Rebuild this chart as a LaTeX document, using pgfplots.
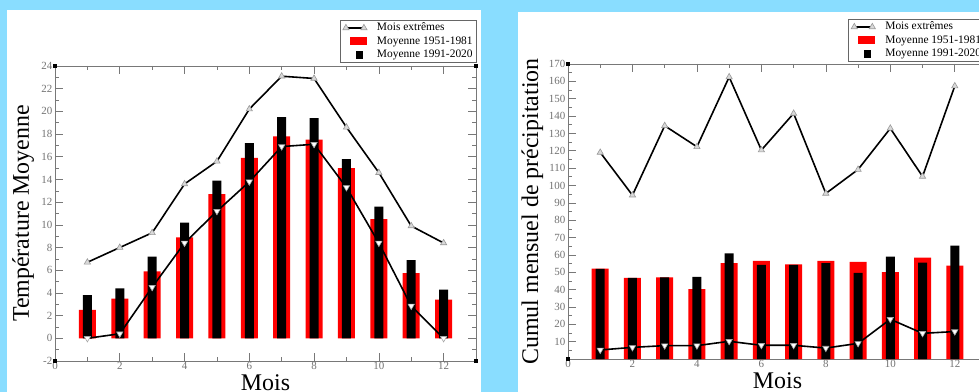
\documentclass[border=0pt]{standalone}
\usepackage{fontspec}
\setmainfont{Liberation Serif}
\usepackage{pgfplots}
\pgfplotsset{compat=1.18}
\definecolor{bgblue}{RGB}{137,221,255}
\definecolor{framegray}{RGB}{120,120,120}
\tikzset{
  uplinet/.style={black, line width=1.6bp, mark=triangle*, mark size=3.6bp,
    mark options={fill=gray!30, draw=gray!80, line width=0.6bp}},
}
\pgfplotsset{
  panel/.style={
    scale only axis,
    xmin=0, xmax=13,
    xtick={0,2,...,12},
    minor xtick={1,3,...,13},
    axis line style={framegray, line width=0.6bp},
    every tick/.style={framegray, line width=0.6bp},
    major tick length=8bp, minor tick length=4bp,
    tick align=inside,
    ticklabel style={font=\fontsize{11}{12}\selectfont, text=black!55},
    /pgf/number format/assume math mode=true,
    xticklabel style={inner sep=1.5bp},
    yticklabel style={inner sep=2.5bp},
    clip=false,
    xlabel={Mois},
    label style={font=\fontsize{24}{26}\selectfont},
    xlabel style={at={(axis description cs:0.5,0)}, anchor=base, yshift=-29bp, inner sep=0pt},
    legend cell align=left,
    legend style={font=\fontsize{11.5}{12}\selectfont, draw=black!60, line width=0.6bp, fill=white,
      inner xsep=3bp, inner ysep=1.5bp, row sep=1bp,
      nodes={inner sep=1bp, text height=8bp, text depth=2.5bp}},
  },
  upline/.style={black, line width=1.6bp, mark=triangle*, mark size=3.6bp,
    mark options={fill=gray!30, draw=gray!80, line width=0.6bp}},
  downline/.style={black, line width=1.6bp, mark=triangle*, mark size=3.6bp,
    mark options={rotate=180, fill=white, draw=gray!70, line width=0.6bp}},
  redbar/.style={ybar, bar width=17bp, bar shift=0bp, fill=red, draw=none},
  blackbar/.style={ybar, bar width=9bp, bar shift=0bp, fill=black, draw=none},
  uplegend/.style={legend image code/.code={\path[draw=none,fill=none] (0bp,0bp) rectangle (32bp,0.1bp); \draw[uplinet, mark repeat=1] plot coordinates {(2bp,0bp) (20bp,0bp)};}},
  redlegend/.style={legend image code/.code={\path[draw=none,fill=none] (0bp,0bp) rectangle (32bp,0.1bp); \fill[red] (6bp,-3.5bp) rectangle (23bp,4bp);}},
  blacklegend/.style={legend image code/.code={\path[draw=none,fill=none] (0bp,0bp) rectangle (32bp,0.1bp); \fill[black] (12bp,-4bp) rectangle (19bp,4bp);}},
}
\begin{document}
\begin{tikzpicture}
\useasboundingbox (0bp,0bp) rectangle (979bp,392bp);
\clip (0bp,0bp) rectangle (979bp,392bp);
\fill[bgblue] (0bp,0bp) rectangle (979bp,392bp);
\fill[white] (7bp,0bp) rectangle (481bp,382bp);
\fill[white] (518bp,0bp) rectangle (990bp,380bp);

% ---------------- left panel
\begin{axis}[panel,
  at={(55bp,31bp)}, anchor=south west, width=421bp, height=295bp,
  ymin=-2, ymax=24, ytick={-2,0,...,24}, minor ytick={-1,1,...,23},
  ylabel={Température Moyenne},
  ylabel style={at={(axis description cs:-0.062,0.5)}, anchor=base},
  legend style={at={(1.0024,1.0102)}, anchor=south east},
]
\addlegendimage{upline, uplegend}
\addlegendentry{Mois extrêmes}
\addlegendimage{redbar, redlegend}
\addlegendentry{Moyenne 1951-1981}
\addlegendimage{blackbar, blacklegend}
\addlegendentry{Moyenne 1991-2020}
\addplot[redbar, forget plot] coordinates {(1,2.5)(2,3.5)(3,5.9)(4,8.9)(5,12.7)(6,15.9)(7,17.8)(8,17.5)(9,15.0)(10,10.5)(11,5.75)(12,3.4)};
\addplot[blackbar, forget plot] coordinates {(1,3.8)(2,4.4)(3,7.2)(4,10.2)(5,13.9)(6,17.2)(7,19.5)(8,19.4)(9,15.8)(10,11.6)(11,6.9)(12,4.3)};
\addplot[upline, forget plot] coordinates {(1,6.7)(2,8.0)(3,9.3)(4,13.6)(5,15.6)(6,20.2)(7,23.1)(8,22.9)(9,18.6)(10,14.6)(11,9.9)(12,8.4)};
\addplot[downline, forget plot] coordinates {(1,0)(2,0.4)(3,4.5)(4,8.4)(5,11.2)(6,13.8)(7,16.9)(8,17.1)(9,13.3)(10,8.4)(11,2.85)(12,0)};
\addplot[only marks, mark=square*, mark size=1.6bp, black, forget plot] coordinates {(0,24)(0,-2)(13,-2)(13,24)};
\end{axis}

% ---------------- right panel
\begin{axis}[panel,
  at={(568bp,33bp)}, anchor=south west, width=419bp, height=295bp,
  ymin=0, ymax=170, ytick={10,20,...,170}, minor ytick={5,15,...,165},
  extra y ticks={0}, extra y tick labels={},
  ylabel={Cumul mensuel de précipitation},
  ylabel style={at={(axis description cs:-0.0716,0.5)}, anchor=base},
  legend style={at={(0.668,1.0068)}, anchor=south west},
]
\addlegendimage{upline, uplegend}
\addlegendentry{Mois extrêmes}
\addlegendimage{redbar, redlegend}
\addlegendentry{Moyenne 1951-1981}
\addlegendimage{blackbar, blacklegend}
\addlegendentry{Moyenne 1991-2020}
\addplot[redbar, forget plot] coordinates {(1,52.1)(2,46.7)(3,47.1)(4,40.2)(5,55.2)(6,56.6)(7,54.6)(8,56.5)(9,55.9)(10,50.1)(11,58.4)(12,53.8)};
\addplot[blackbar, forget plot] coordinates {(1,52.0)(2,46.7)(3,47.0)(4,47.3)(5,60.8)(6,54.2)(7,54.2)(8,55.3)(9,49.6)(10,59.0)(11,55.5)(12,65.3)};
\addplot[upline, forget plot] coordinates {(1,119)(2,94.4)(3,134.4)(4,122.3)(5,162.5)(6,120.4)(7,141.5)(8,95.4)(9,109.2)(10,132.9)(11,105.2)(12,157.3)};
\addplot[downline, forget plot] coordinates {(1,5.2)(2,6.7)(3,7.7)(4,7.7)(5,10.2)(6,7.9)(7,7.9)(8,6.3)(9,9.0)(10,22.9)(11,14.8)(12,15.8)};
\addplot[only marks, mark=square*, mark size=1.6bp, black, forget plot] coordinates {(0,170)(0,0)(13,0)(13,170)};
\end{axis}
\end{tikzpicture}
\end{document}
